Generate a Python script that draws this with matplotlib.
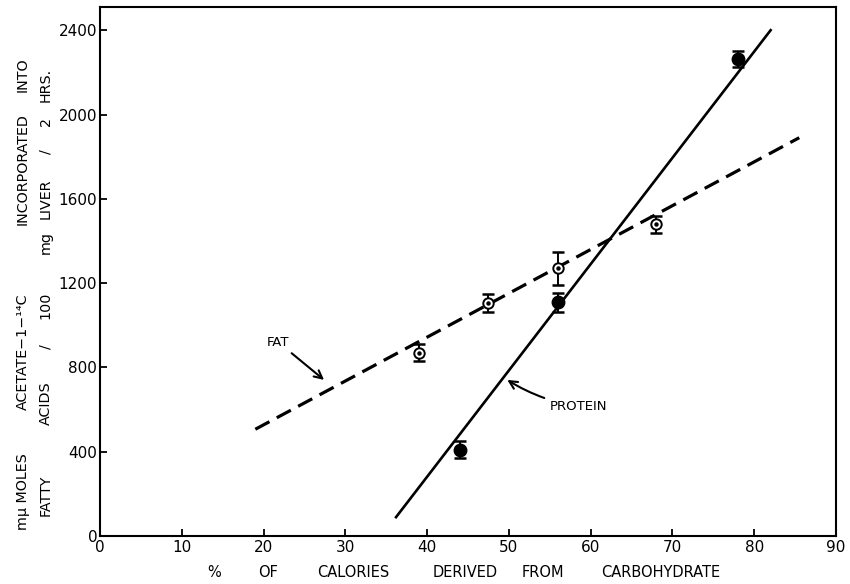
import matplotlib
matplotlib.use('Agg')
import matplotlib.pyplot as plt
import matplotlib.transforms as mtransforms

# measured points (% calories from carbohydrate, m-umoles)
fat_x = [39, 47.5, 56, 68]
fat_y = [870, 1105, 1270, 1480]
fat_err = [40, 42, 80, 40]

protein_x = [44, 56, 78]
protein_y = [410, 1110, 2265]
protein_err = [40, 45, 38]

# fitted lines (end points)
fat_line_x = [19, 85.5]
fat_line_y = [507, 1890]
protein_line_x = [36.2, 82]
protein_line_y = [90, 2400]

x_ticks = list(range(0, 91, 10))
y_ticks = list(range(0, 2401, 400))

plt.rcParams['font.family'] = ['DejaVu Sans']

fig = plt.figure(figsize=(8.5, 5.84), dpi=100)
ax = fig.add_axes([0.1176, 0.082, 0.866, 0.906])

# lines
ax.plot(fat_line_x, fat_line_y, color='black', lw=2.3, linestyle=(0, (5, 2.6)))
ax.plot(protein_line_x, protein_line_y, color='black', lw=1.9)

# error bars
ax.errorbar(fat_x, fat_y, yerr=fat_err, fmt='none', ecolor='black',
            elinewidth=1.4, capsize=4.5, capthick=1.8)
ax.errorbar(protein_x, protein_y, yerr=protein_err, fmt='none', ecolor='black',
            elinewidth=1.4, capsize=4.5, capthick=1.8)

# markers: open circle with a dot for fat, solid for protein
ax.plot(fat_x, fat_y, 'o', mfc='white', mec='black', ms=7.5, mew=1.4)
ax.plot(fat_x, fat_y, 'o', color='black', ms=2.2)
ax.plot(protein_x, protein_y, 'o', color='black', ms=9)

# labels on the lines
arrow = dict(arrowstyle='->,head_length=0.6,head_width=0.3', lw=1.5, color='black',
             shrinkA=2, shrinkB=0)
ax.annotate('FAT', xy=(27.4, 741), xytext=(21.8, 920), ha='center', va='center',
            fontsize=9.5, arrowprops=arrow)
ax.annotate('PROTEIN', xy=(49.8, 741), xytext=(58.5, 613), ha='center', va='center',
            fontsize=9.5, arrowprops=dict(arrow, connectionstyle='arc3,rad=-0.1'))

ax.set_xlim(0, 90)
ax.set_ylim(0, 2510)
ax.set_xticks(x_ticks)
ax.set_yticks(y_ticks)
ax.tick_params(direction='in', length=5, width=1.3, labelsize=11, pad=3)
ax.tick_params(axis='y', pad=2)
for s in ax.spines.values():
    s.set_linewidth(1.5)

# x axis title, words spread out as in the original
xlab_words = ['%', 'OF', 'CALORIES', 'DERIVED', 'FROM', 'CARBOHYDRATE']
xlab_pos = [14.0, 20.6, 31.0, 44.6, 54.2, 68.6]
tx = mtransforms.blended_transform_factory(ax.transData, fig.transFigure)
for w, p in zip(xlab_words, xlab_pos):
    fig.text(p, 0.02, w, transform=tx, ha='center', va='center', fontsize=10.5)

# y axis title, two rotated lines
ty = mtransforms.blended_transform_factory(fig.transFigure, ax.transData)
ylab1_words = ['m\u03bc MOLES', 'ACETATE\u22121\u2212\u00b9\u2074C', 'INCORPORATED', 'INTO']
ylab1_pos = [209, 875, 1740, 2190]
ylab2_words = ['FATTY', 'ACIDS', '/', '100', 'mg', 'LIVER', '/', '2', 'HRS.']
ylab2_pos = [195, 632, 898, 1093, 1393, 1602, 1825, 1968, 2139]
for w, p in zip(ylab1_words, ylab1_pos):
    fig.text(0.027, p, w, transform=ty, rotation=90, ha='center', va='center', fontsize=10.3)
for w, p in zip(ylab2_words, ylab2_pos):
    fig.text(0.054, p, w, transform=ty, rotation=90, ha='center', va='center', fontsize=10.3)

fig.savefig('out.png', dpi=100)
